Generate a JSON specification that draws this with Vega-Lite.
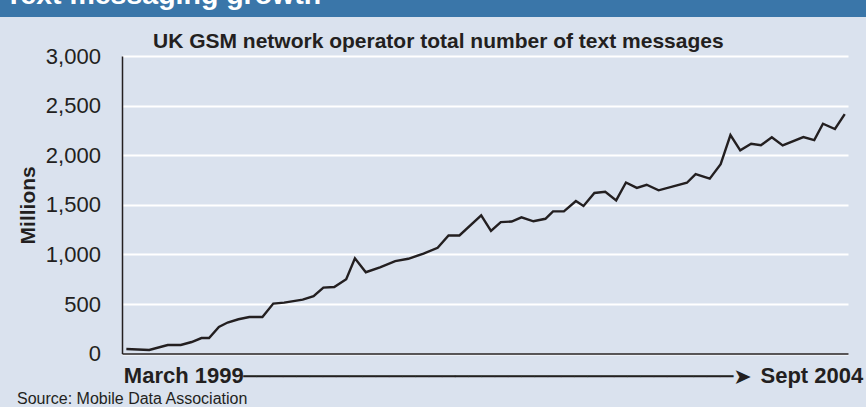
{
  "$schema": "https://vega.github.io/schema/vega-lite/v6.json",
  "background": "#dae2ee",
  "padding": 0,
  "autosize": {"type": "pad"},
  "bounds": "flush",
  "spacing": 39,
  "config": {"view": {"stroke": null}, "font": "Liberation Sans"},
  "title": {
    "text": "Source: Mobile Data Association",
    "orient": "bottom",
    "anchor": "start",
    "frame": "bounds",
    "dx": 17,
    "offset": 16,
    "baseline": "alphabetic",
    "fontSize": 16,
    "fontWeight": "normal",
    "color": "#231f20"
  },
  "vconcat": [
    {
      "width": 866,
      "height": 17,
      "view": {"fill": "#3a76a9", "stroke": null},
      "data": {"values": [{"label": "Text messaging growth"}]},
      "mark": {"type": "text", "clip": true, "align": "left", "baseline": "alphabetic", "fontSize": 28.5, "fontWeight": "bold", "color": "#ffffff", "x": 5, "y": 4},
      "encoding": {"text": {"field": "label"}}
    },
    {
      "hconcat": [
        {
          "width": 122,
          "height": 297.6,
          "data": {"values": [{}]},
          "mark": {"type": "text", "text": " "}
        },
        {
          "width": 726,
          "height": 297.6,
          "title": {
            "text": "UK GSM network operator total number of text messages",
            "anchor": "start",
            "frame": "group",
            "dx": 31,
            "offset": -24,
            "baseline": "alphabetic",
            "fontSize": 21,
            "fontWeight": "bold",
            "color": "#231f20"
          },
          "data": {"values": [
            {"month": 0, "messages": 46},
            {"month": 2.1, "messages": 36},
            {"month": 3.8, "messages": 87},
            {"month": 5.0, "messages": 87},
            {"month": 6.0, "messages": 117},
            {"month": 6.9, "messages": 157},
            {"month": 7.6, "messages": 157},
            {"month": 8.5, "messages": 268},
            {"month": 9.3, "messages": 313},
            {"month": 10.3, "messages": 346},
            {"month": 11.3, "messages": 369},
            {"month": 12.5, "messages": 369},
            {"month": 13.5, "messages": 504},
            {"month": 14.5, "messages": 514},
            {"month": 16.2, "messages": 544},
            {"month": 17.2, "messages": 578},
            {"month": 18.1, "messages": 665},
            {"month": 19.1, "messages": 671},
            {"month": 20.2, "messages": 749},
            {"month": 21.0, "messages": 961},
            {"month": 22.0, "messages": 820},
            {"month": 23.3, "messages": 870},
            {"month": 24.7, "messages": 932},
            {"month": 25.9, "messages": 956},
            {"month": 27.3, "messages": 1008},
            {"month": 28.6, "messages": 1067},
            {"month": 29.6, "messages": 1191},
            {"month": 30.6, "messages": 1191},
            {"month": 32.6, "messages": 1394},
            {"month": 33.5, "messages": 1238},
            {"month": 34.4, "messages": 1326},
            {"month": 35.4, "messages": 1331},
            {"month": 36.3, "messages": 1374},
            {"month": 37.4, "messages": 1334},
            {"month": 38.5, "messages": 1359},
            {"month": 39.2, "messages": 1434},
            {"month": 40.2, "messages": 1434},
            {"month": 41.3, "messages": 1538},
            {"month": 42.0, "messages": 1488},
            {"month": 43.0, "messages": 1619},
            {"month": 44.0, "messages": 1631},
            {"month": 45.0, "messages": 1545},
            {"month": 45.9, "messages": 1725},
            {"month": 46.9, "messages": 1671},
            {"month": 47.8, "messages": 1702},
            {"month": 48.9, "messages": 1646},
            {"month": 51.5, "messages": 1722},
            {"month": 52.3, "messages": 1810},
            {"month": 53.6, "messages": 1764},
            {"month": 54.6, "messages": 1910},
            {"month": 55.5, "messages": 2203},
            {"month": 56.4, "messages": 2049},
            {"month": 57.4, "messages": 2115},
            {"month": 58.3, "messages": 2100},
            {"month": 59.3, "messages": 2180},
            {"month": 60.3, "messages": 2098},
            {"month": 62.2, "messages": 2183},
            {"month": 63.2, "messages": 2152},
            {"month": 64.0, "messages": 2317},
            {"month": 65.1, "messages": 2264},
            {"month": 66.0, "messages": 2415}
          ]},
          "mark": {"type": "line", "color": "#231f20", "strokeWidth": 2.4},
          "encoding": {
            "x": {
              "field": "month",
              "type": "quantitative",
              "scale": {"domain": [-0.4, 66.3], "nice": false, "zero": false},
              "axis": {
                "values": [0, 66],
                "labelExpr": "datum.value == 0 ? 'March 1999' : 'Sept 2004'",
                "labelAlign": {"condition": {"test": "datum.value == 0", "value": "left"}, "value": "right"},
                "labelOffset": {"condition": {"test": "datum.value == 0", "value": -3}, "value": 18},
                "labelBaseline": "alphabetic",
                "labelPadding": 28.7,
                "labelFontSize": 22,
                "labelFontWeight": "bold",
                "labelColor": "#231f20",
                "labelBound": false,
                "labelOverlap": false,
                "labelFlush": false,
                "ticks": false,
                "tickSize": 0,
                "grid": false,
                "domainColor": "#231f20",
                "domainWidth": 1.5,
                "title": "─────────────────────────────────────➤",
                "titleFont": "DejaVu Sans",
                "titleFontSize": 22,
                "titleFontWeight": "normal",
                "titleColor": "#231f20",
                "titleAlign": "left",
                "titleAnchor": "start",
                "titleBaseline": "alphabetic",
                "titleX": 120.7,
                "titleY": 30.3
              }
            },
            "y": {
              "field": "messages",
              "type": "quantitative",
              "scale": {"domain": [0, 3000], "nice": false},
              "axis": {
                "values": [0, 500, 1000, 1500, 2000, 2500, 3000],
                "format": ",.0f",
                "labelFontSize": 22,
                "labelColor": "#231f20",
                "labelPadding": 21.6,
                "ticks": false,
                "tickSize": 0,
                "domainColor": "#231f20",
                "domainWidth": 1.5,
                "gridColor": "#ffffff",
                "gridWidth": 2,
                "gridOpacity": 1,
                "title": "Millions",
                "titleFontSize": 21,
                "titleFontWeight": "bold",
                "titleColor": "#231f20",
                "titlePadding": 7
              }
            }
          }
        }
      ],
      "spacing": 0,
      "bounds": "flush"
    }
  ]
}
